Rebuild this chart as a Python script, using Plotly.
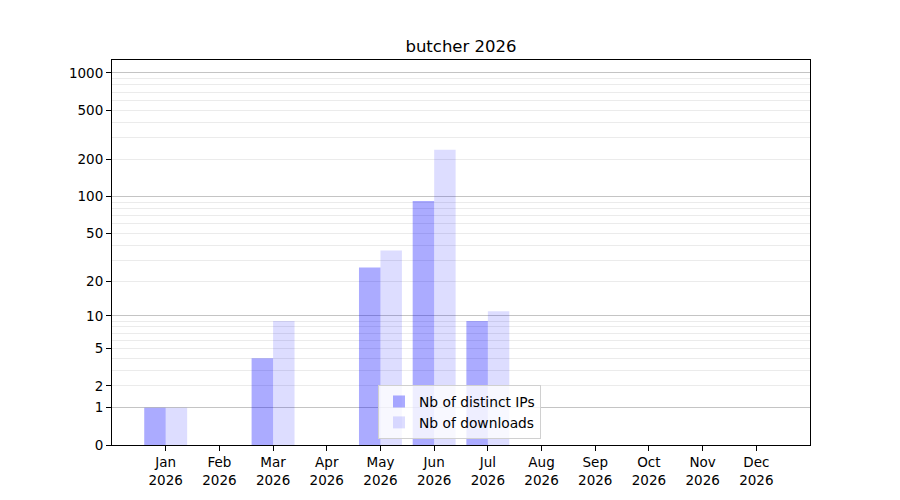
import math
import plotly.graph_objects as go

months = ["Jan", "Feb", "Mar", "Apr", "May", "Jun", "Jul", "Aug", "Sep", "Oct", "Nov", "Dec"]
year = "2026"
distinct_ips = [1, 0, 4, 0, 26, 92, 9, 0, 0, 0, 0, 0]
downloads = [1, 0, 9, 0, 36, 240, 11, 0, 0, 0, 0, 0]
y_tick_values = [0, 1, 2, 5, 10, 20, 50, 100, 200, 500, 1000]
y_major_grid = [1, 10, 100, 1000]
y_minor_grid = [2, 3, 4, 5, 6, 7, 8, 9, 20, 30, 40, 50, 60, 70, 80, 90,
                200, 300, 400, 500, 600, 700, 800, 900]
y_top = 1272

labels = [f"{m}<br>{year}" for m in months]
font = "DejaVu Sans, Liberation Sans, sans-serif"

def shift(vals):
    return [v + 1 for v in vals]

fig = go.Figure()
fig.add_trace(go.Bar(x=labels, y=shift(distinct_ips), name="Nb of distinct IPs",
                     marker=dict(color="rgba(0,0,255,0.33)", line=dict(width=0))))
fig.add_trace(go.Bar(x=labels, y=shift(downloads), name="Nb of downloads",
                     marker=dict(color="rgba(0,0,255,0.135)", line=dict(width=0))))
fig.add_trace(go.Scatter(x=[labels[0]], y=[1], yaxis="y2", mode="markers",
                         marker=dict(opacity=0), showlegend=False, hoverinfo="skip"))

yr = [0, math.log10(y_top + 1)]

fig.update_layout(
    width=900, height=500,
    paper_bgcolor="white", plot_bgcolor="white",
    margin=dict(l=104, r=98, t=52, b=63),
    font=dict(family=font, size=13.5, color="black"),
    title=dict(text="butcher 2026", x=0.5, xref="paper", y=1 - 38 / 500, yref="container",
               yanchor="middle", xanchor="center", font=dict(size=16.5)),
    barmode="group", bargap=0.2, bargroupgap=0,
    xaxis=dict(type="category", range=[-1.0, 12.0], showgrid=False, ticks="outside",
               ticklen=5, tickcolor="black", showline=True, linecolor="black",
               linewidth=1, mirror=True, tickfont=dict(size=13.5)),
    yaxis=dict(type="log", range=yr, tickmode="array", tickvals=shift(y_tick_values),
               ticktext=[str(v) for v in y_tick_values], showgrid=False,
               ticks="outside", ticklen=5, tickcolor="black", showline=True,
               linecolor="black", linewidth=1, mirror=True, tickfont=dict(size=13.5),
               minor=dict(tickmode="array", tickvals=shift(y_minor_grid), showgrid=True,
                          gridcolor="#ebebeb", gridwidth=1, ticks="")),
    yaxis2=dict(type="log", range=yr, overlaying="y", side="left", tickmode="array",
                tickvals=shift(y_major_grid), showticklabels=False, ticks="",
                showgrid=True, gridcolor="#c4c4c4", gridwidth=1, showline=False),
    legend=dict(x=(378 - 112) / 698, y=(445 - 439) / 385, xanchor="left", yanchor="bottom",
                bgcolor="rgba(255,255,255,0.8)", bordercolor="#d0d0d0", borderwidth=1,
                font=dict(size=13.8)),
)

fig.write_html("out.html")
